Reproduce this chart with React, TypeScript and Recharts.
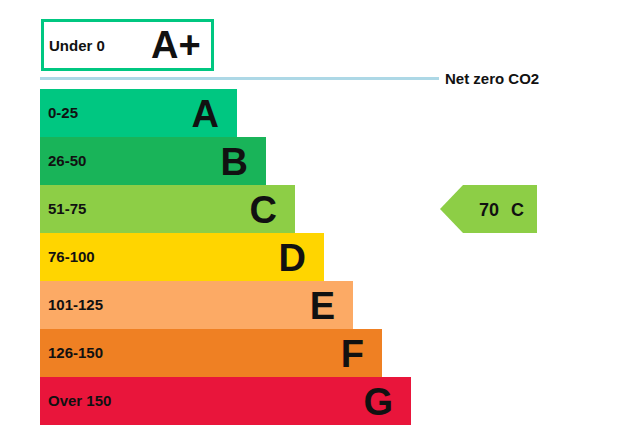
import { BarChart, Bar, XAxis, YAxis, Cell, LabelList, ReferenceArea } from 'recharts';

// EPC-style carbon rating bands
const bands = ['A', 'B', 'C', 'D', 'E', 'F', 'G'];
const ranges = ['0-25', '26-50', '51-75', '76-100', '101-125', '126-150', 'Over 150'];
const barLengths = [197, 226, 255, 284, 313, 342, 371];
const bandColors = ['#00c781', '#19b459', '#8dce46', '#ffd500', '#fcaa65', '#ef8023', '#e9153b'];

const currentScore = 70;
const currentBand = 'C';

const data = bands.map((band, i) => ({ band, range: ranges[i], length: barLengths[i] }));

const FONT = '"Liberation Sans", Arial, sans-serif';

// big band letter, right-aligned inside the bar
const LetterLabel = (props: any) => {
  const { x, y, width, height, value } = props;
  return (
    <text
      x={x + width - 18}
      y={y + height / 2 + 14}
      textAnchor="end"
      fontSize={38}
      fontWeight="bold"
      fontFamily={FONT}
      fill="#111"
    >
      {value}
    </text>
  );
};

// pointer arrow showing the current rating
const RatingArrow = (props: any) => {
  const { x, y, width, height } = props;
  const mid = y + height / 2;
  const points = [
    [x, mid],
    [x + 23, y],
    [x + width, y],
    [x + width, y + height],
    [x + 23, y + height],
  ]
    .map((p) => p.join(','))
    .join(' ');
  return (
    <g>
      <polygon points={points} fill="#8dce46" />
      <text x={x + 39} y={mid + 7} fontSize={18} fontWeight="bold" fontFamily={FONT} fill="#111">
        {currentScore}
      </text>
      <text x={x + 71} y={mid + 7} fontSize={18} fontWeight="bold" fontFamily={FONT} fill="#111">
        {currentBand}
      </text>
    </g>
  );
};

export default function App() {
  return (
    <div style={{ position: 'relative', width: 632, height: 437, margin: -8, background: '#fff', fontFamily: FONT }}>
      {/* A+ header box */}
      <div
        style={{
          position: 'absolute',
          left: 41,
          top: 19,
          width: 173,
          height: 52,
          boxSizing: 'border-box',
          border: '3px solid #00c781',
          display: 'flex',
          alignItems: 'center',
        }}
      >
        <span style={{ position: 'absolute', left: 5, fontSize: 15, fontWeight: 'bold', color: '#111' }}>Under 0</span>
        <span style={{ position: 'absolute', left: 107, fontSize: 38, fontWeight: 'bold', color: '#111', lineHeight: 1 }}>A+</span>
      </div>

      {/* net zero divider */}
      <div style={{ position: 'absolute', left: 40, top: 77, width: 399, height: 3, background: '#add8e6' }} />
      <div style={{ position: 'absolute', left: 445, top: 70, fontSize: 15, fontWeight: 'bold', color: '#111' }}>
        Net zero CO2
      </div>

      <div style={{ position: 'absolute', left: 0, top: 0 }}>
        <BarChart
          width={632}
          height={437}
          data={data}
          layout="vertical"
          margin={{ top: 89, right: 0, bottom: 12, left: 40 }}
          barCategoryGap={0}
        >
          <XAxis type="number" domain={[0, 592]} hide />
          <YAxis type="category" dataKey="band" hide />
          <Bar dataKey="length" isAnimationActive={false}>
            {data.map((d, i) => (
              <Cell key={d.band} fill={bandColors[i]} />
            ))}
            <LabelList
              dataKey="range"
              position="insideLeft"
              offset={8}
              fill="#111"
              fontSize={15}
              fontWeight="bold"
              fontFamily={FONT}
            />
            <LabelList dataKey="band" content={<LetterLabel />} />
          </Bar>
          <ReferenceArea
            y1={currentBand}
            y2={currentBand}
            x1={400}
            x2={497}
            ifOverflow="visible"
            shape={<RatingArrow />}
          />
        </BarChart>
      </div>
    </div>
  );
}
